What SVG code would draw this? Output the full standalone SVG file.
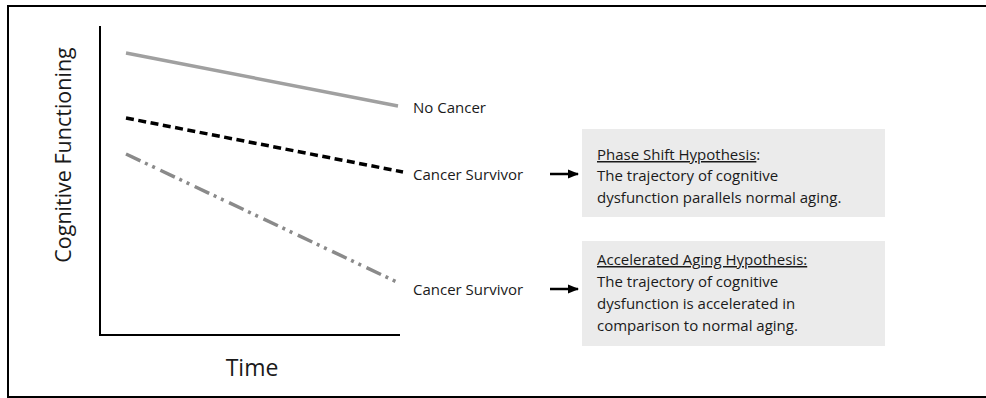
<svg xmlns="http://www.w3.org/2000/svg" width="986" height="398" viewBox="0 0 986 398">
  <style>
    .lbl { font-family: "Open Sans", "Noto Sans", "Liberation Sans", sans-serif; fill: #1a1a1a; }
    .y-title { font-size: 21.5px; }
    .x-title { font-size: 23px; }
    .series { font-size: 15px; }
    .hyp { font-size: 15px; }
    .u { text-decoration: underline; }
    .box { fill: #ebebeb; }
    .axis { stroke: #000; stroke-width: 2; fill: none; }
  </style>
  <defs>
    <marker id="arrowhead" markerWidth="12" markerHeight="12" refX="10" refY="6" orient="auto" markerUnits="userSpaceOnUse">
      <path d="M0,1.5 L11,6 L0,10.5 Z" fill="#000"/>
    </marker>
  </defs>

  <rect x="0" y="0" width="986" height="398" fill="#fff"/>
  <!-- outer frame, open on the right -->
  <path d="M986,6 L8,6 L8,397 L986,397" fill="none" stroke="#000" stroke-width="2"/>

  <!-- chart axes -->
  <g id="axes">
    <path class="axis" d="M100,26 L100,335 L400,335"/>
    <text class="lbl y-title" transform="translate(71,155) rotate(-90)" text-anchor="middle">Cognitive Functioning</text>
    <text class="lbl x-title" x="252" y="376" text-anchor="middle">Time</text>
  </g>

  <!-- trajectories -->
  <g id="series-no-cancer">
    <line x1="126" y1="53" x2="398" y2="106" stroke="#a0a0a0" stroke-width="3.5"/>
    <text class="lbl series" x="413" y="113">No Cancer</text>
  </g>
  <g id="series-survivor-phase">
    <line x1="126" y1="118" x2="403" y2="172" stroke="#000" stroke-width="3.5" stroke-dasharray="8 4.5"/>
    <text class="lbl series" x="413" y="180">Cancer Survivor</text>
  </g>
  <g id="series-survivor-accel">
    <line x1="126" y1="154" x2="399" y2="283" stroke="#8a8a8a" stroke-width="3.5" stroke-dasharray="16 5 3 5 3 6"/>
    <text class="lbl series" x="413" y="295">Cancer Survivor</text>
  </g>

  <!-- hypothesis boxes -->
  <g id="phase-shift">
    <rect class="box" x="582" y="129" width="303" height="88"/>
    <text class="lbl hyp" x="597" y="160"><tspan class="u">Phase Shift Hypothesis</tspan>:</text>
    <text class="lbl hyp" x="597" y="181">The trajectory of cognitive</text>
    <text class="lbl hyp" x="597" y="203">dysfunction parallels normal aging.</text>
  </g>
  <g id="accelerated-aging">
    <rect class="box" x="582" y="241" width="303" height="105"/>
    <text class="lbl hyp" x="597" y="265"><tspan class="u">Accelerated Aging Hypothesis:</tspan></text>
    <text class="lbl hyp" x="597" y="287">The trajectory of cognitive</text>
    <text class="lbl hyp" x="597" y="309">dysfunction is accelerated in</text>
    <text class="lbl hyp" x="597" y="331">comparison to normal aging.</text>
  </g>

  <!-- connectors -->
  <g id="connectors" stroke="#000" stroke-width="2.5" fill="none">
    <line x1="550" y1="174" x2="578" y2="174" marker-end="url(#arrowhead)"/>
    <line x1="550" y1="289" x2="578" y2="289" marker-end="url(#arrowhead)"/>
  </g>
</svg>
